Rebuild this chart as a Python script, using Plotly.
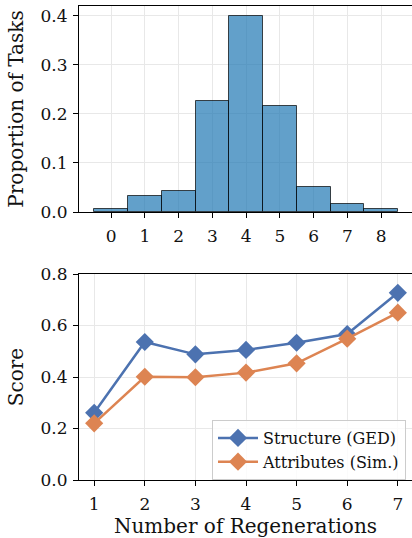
import plotly.graph_objects as go

# Data
regen_counts = [0, 1, 2, 3, 4, 5, 6, 7, 8]
proportions = [0.006, 0.033, 0.043, 0.227, 0.400, 0.216, 0.050, 0.016, 0.006]

regens = [1, 2, 3, 4, 5, 6, 7]
structure_ged = [0.261, 0.536, 0.488, 0.505, 0.533, 0.567, 0.727]
attributes_sim = [0.220, 0.401, 0.399, 0.417, 0.453, 0.549, 0.650]

FONT = "DejaVu Serif"
BLUE = "#4C72B0"
ORANGE = "#DD8452"
GRID = "#e8e8e8"
W, H = 412.0, 538.0
L = 79.0

fig = go.Figure()
fig.add_trace(go.Bar(
    x=regen_counts, y=proportions, width=1.0,
    marker=dict(color="rgba(31,119,180,0.7)", line=dict(color="rgba(0,0,0,0.7)", width=1)),
    xaxis="x", yaxis="y", showlegend=False,
))
fig.add_trace(go.Scatter(
    x=regens, y=structure_ged, mode="lines+markers", name="Structure (GED)",
    line=dict(color=BLUE, width=2.5), marker=dict(symbol="diamond", size=14, color=BLUE),
    xaxis="x2", yaxis="y2",
))
fig.add_trace(go.Scatter(
    x=regens, y=attributes_sim, mode="lines+markers", name="Attributes (Sim.)",
    line=dict(color=ORANGE, width=2.5), marker=dict(symbol="diamond", size=14, color=ORANGE),
    xaxis="x2", yaxis="y2",
))

axis_common = dict(
    showline=True, linecolor="black", linewidth=1.2,
    ticks="outside", ticklen=5, tickwidth=1.2, tickcolor="black",
    showgrid=True, gridcolor=GRID, gridwidth=1, zeroline=False,
    tickfont=dict(family=FONT, size=17, color="#111"),
    automargin=False,
)

fig.update_layout(
    width=412, height=538,
    margin=dict(l=79, r=0, t=0, b=0, autoexpand=False),
    paper_bgcolor="white", plot_bgcolor="white",
    bargap=0,
    font=dict(family=FONT, color="#111"),
    xaxis=dict(axis_common, domain=[0, 1], anchor="y", range=[-0.95, 8.91],
               tickvals=regen_counts, mirror=True, ticklabelstandoff=3),
    yaxis=dict(axis_common, domain=[1 - 212 / H, 1 - 6 / H], anchor="x", range=[0, 0.42],
               tickvals=[0, 0.1, 0.2, 0.3, 0.4], tickformat=".1f", ticklabelstandoff=2,
               title=dict(text="Proportion of Tasks", font=dict(family=FONT, size=20), standoff=11)),
    xaxis2=dict(axis_common, domain=[0, 1], anchor="y2", range=[0.7, 7.28],
                tickvals=regens, mirror=True, ticklabelstandoff=3,
                title=dict(text="Number of Regenerations", font=dict(family=FONT, size=20), standoff=6)),
    yaxis2=dict(axis_common, domain=[1 - 480 / H, 1 - 274 / H], anchor="x2", range=[0, 0.8],
                tickvals=[0, 0.2, 0.4, 0.6, 0.8], tickformat=".1f", ticklabelstandoff=2,
                title=dict(text="Score", font=dict(family=FONT, size=20), standoff=11)),
    legend=dict(x=(212 - L) / (W - L), y=1 - 420 / H, xanchor="left", yanchor="top",
                bgcolor="rgba(255,255,255,0.8)", bordercolor="#cccccc", borderwidth=1,
                font=dict(family=FONT, size=16, color="#111"), itemwidth=40,
                tracegroupgap=0),
)

fig.write_html("out.html", config={"displayModeBar": False},
               post_script="document.body.style.margin='0px';")
